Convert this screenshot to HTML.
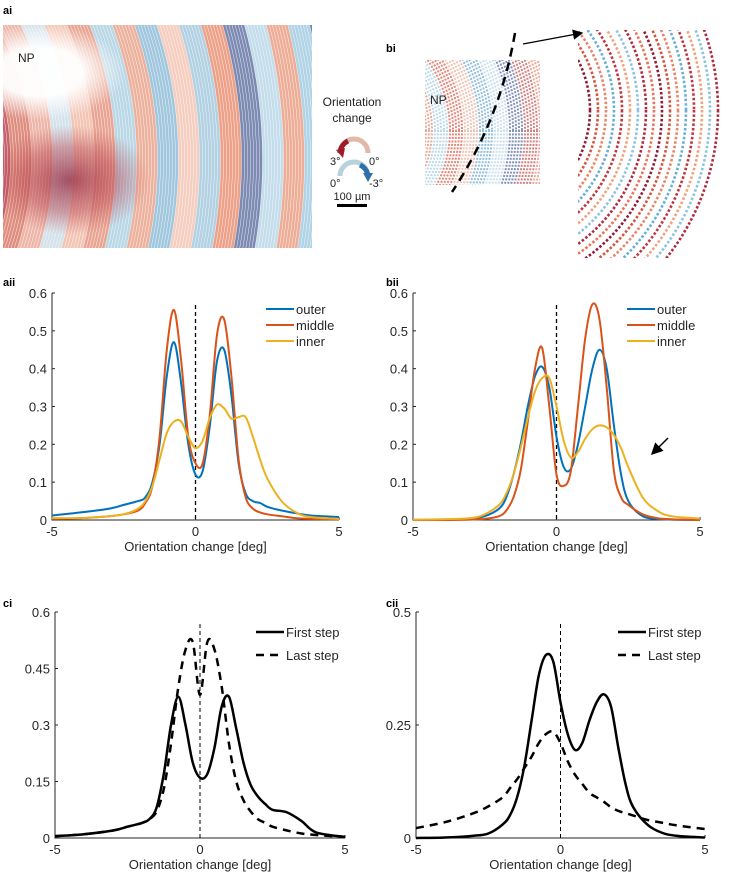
<!DOCTYPE html>
<html><head><meta charset="utf-8">
<style>
body{margin:0;background:#fff;width:729px;height:879px;overflow:hidden;font-family:"Liberation Sans",sans-serif}
svg text{font-family:"Liberation Sans",sans-serif}
</style></head>
<body>
<svg id="fig" width="729" height="879" viewBox="0 0 729 879" xmlns="http://www.w3.org/2000/svg">
<defs>
<clipPath id="clipA"><rect x="3" y="25" width="309" height="223"/></clipPath>
<clipPath id="clipB"><rect x="425" y="60" width="115" height="125"/></clipPath>
<clipPath id="clipC"><rect x="578" y="30" width="151" height="228"/></clipPath>
<radialGradient id="npWhite" cx="0.5" cy="0.5" r="0.5"><stop offset="0.5" stop-color="#fff" stop-opacity="0.95"/><stop offset="1" stop-color="#fff" stop-opacity="0"/></radialGradient>
<radialGradient id="redBlob" cx="0.5" cy="0.5" r="0.5"><stop offset="0" stop-color="#8e1f36" stop-opacity="0.75"/><stop offset="0.6" stop-color="#b7404c" stop-opacity="0.45"/><stop offset="1" stop-color="#c0504f" stop-opacity="0"/></radialGradient>
<marker id="ah" markerWidth="8" markerHeight="8" refX="7" refY="4" orient="auto"><path d="M0,0 L8,4 L0,8 z" fill="#000"/></marker>
</defs>
<g id="imgA" clip-path="url(#clipA)"></g>
<g id="imgB" clip-path="url(#clipB)"></g>
<g id="imgC" clip-path="url(#clipC)"></g>
<text x="3" y="14" font-size="11" font-weight="bold">ai</text>
<text x="18" y="62" font-size="12" fill="#222">NP</text>
<text x="386" y="52" font-size="11" font-weight="bold">bi</text>
<text x="430" y="104" font-size="12" fill="#222">NP</text>
<path d="M515,33 Q500,120 452,192" stroke="#000" stroke-width="2.5" fill="none" stroke-dasharray="9,6"/>
<line x1="523" y1="44" x2="582" y2="33" stroke="#000" stroke-width="1.3" marker-end="url(#ah)"/>
<g>
<text x="352" y="106" font-size="12" text-anchor="middle" fill="#222">Orientation</text>
<text x="352" y="122" font-size="12" text-anchor="middle" fill="#222">change</text>
<path d="M340,153 A14,14 0 0 1 368,153" stroke="#e2b8a8" stroke-width="5" fill="none"/>
<path d="M340,153 A14,14 0 0 1 348,141" stroke="#9e1b2a" stroke-width="5" fill="none"/>
<path d="M336,150 L343,158 L345,148 z" fill="#9e1b2a"/>
<path d="M340,176 A14,14 0 0 1 368,176" stroke="#b9d1dc" stroke-width="5" fill="none"/>
<path d="M360,165 A14,14 0 0 1 368,176" stroke="#2f6fa8" stroke-width="5" fill="none"/>
<path d="M363,173 L373,173 L368,182 z" fill="#2f6fa8"/>
<text x="330" y="165" font-size="11" fill="#222">3°</text>
<text x="369" y="165" font-size="11" fill="#222">0°</text>
<text x="330" y="187" font-size="11" fill="#222">0°</text>
<text x="369" y="187" font-size="11" fill="#222">-3°</text>
<text x="352" y="200" font-size="11" text-anchor="middle" fill="#222">100 µm</text>
<rect x="337" y="204" width="30" height="3" fill="#000"/>
</g>
<text x="3" y="286" font-size="11" font-weight="bold">aii</text>
<text x="386" y="286" font-size="11" font-weight="bold">bii</text>
<text x="3" y="607" font-size="11" font-weight="bold">ci</text>
<text x="386" y="607" font-size="11" font-weight="bold">cii</text>
</svg>
<script>
// ---- chart data ----
const xs = [-5,-4,-3,-2.5,-2,-1.75,-1.5,-1.25,-1,-0.75,-0.5,-0.25,0,0.25,0.5,0.75,1,1.25,1.5,1.75,2,2.25,2.5,3,3.5,4,5];
const aiiOuter  = [.012,.02,.03,.04,.05,.06,.1,.2,.38,.47,.36,.2,.12,.13,.25,.42,.45,.33,.15,.07,.05,.045,.035,.025,.018,.012,.008];
const aiiMiddle = [.003,.005,.01,.015,.025,.045,.09,.22,.45,.555,.42,.22,.15,.15,.28,.49,.53,.38,.16,.06,.03,.02,.015,.01,.005,.003,.002];
const aiiInner  = [.005,.005,.01,.015,.03,.05,.09,.16,.23,.26,.26,.22,.19,.21,.27,.305,.295,.268,.272,.272,.22,.16,.11,.05,.02,.008,.003];
const biiOuter  = [0,.001,.003,.01,.03,.06,.12,.2,.3,.38,.405,.35,.22,.14,.135,.2,.3,.4,.45,.4,.25,.12,.05,.01,.003,.001,0];
const biiMiddle = [0,0,.001,.003,.01,.025,.06,.13,.26,.4,.455,.3,.12,.09,.13,.3,.48,.57,.53,.35,.13,.06,.04,.015,.005,.002,0];
const biiInner  = [.001,.002,.005,.015,.04,.07,.12,.19,.27,.34,.375,.375,.3,.21,.165,.18,.215,.24,.25,.245,.225,.19,.14,.06,.025,.01,.004];
const ciFirst   = [.005,.01,.02,.03,.04,.05,.08,.17,.3,.375,.3,.2,.16,.17,.24,.35,.375,.29,.2,.14,.11,.09,.075,.068,.045,.015,.003];
const ciLast    = [.005,.01,.02,.03,.04,.05,.07,.13,.25,.4,.5,.52,.38,.52,.5,.4,.25,.15,.1,.07,.05,.04,.03,.02,.012,.008,.003];
const ciiFirst  = [0,.001,.005,.01,.03,.05,.09,.16,.26,.36,.405,.39,.3,.23,.195,.21,.26,.3,.318,.29,.2,.12,.07,.03,.012,.005,.001];
const ciiLast   = [.022,.035,.055,.07,.09,.11,.13,.155,.18,.21,.23,.235,.21,.17,.14,.12,.1,.09,.08,.068,.06,.055,.05,.04,.034,.028,.02];
const xTicks = [-5,0,5];
const abTicks = [0,0.1,0.2,0.3,0.4,0.5,0.6];
const ciTicks = [0,0.15,0.3,0.45,0.6];
const ciiTicks = [0,0.25,0.5];
const legendAB = ["outer","middle","inner"];
const legendC = ["First step","Last step"];

const NS="http://www.w3.org/2000/svg";
const svg=document.getElementById('fig');
function mk(tag,attrs,parent){const e=document.createElementNS(NS,tag);for(const k in attrs)e.setAttribute(k,attrs[k]);(parent||svg).appendChild(e);return e;}
function smooth(pts){let d="M"+pts[0][0].toFixed(1)+","+pts[0][1].toFixed(1);
 for(let i=0;i<pts.length-1;i++){const p0=pts[i-1]||pts[i],p1=pts[i],p2=pts[i+1],p3=pts[i+2]||p2;
  const c1=[p1[0]+(p2[0]-p0[0])/6,p1[1]+(p2[1]-p0[1])/6],c2=[p2[0]-(p3[0]-p1[0])/6,p2[1]-(p3[1]-p1[1])/6];
  d+=" C"+c1[0].toFixed(1)+","+c1[1].toFixed(1)+" "+c2[0].toFixed(1)+","+c2[1].toFixed(1)+" "+p2[0].toFixed(1)+","+p2[1].toFixed(1);}
 return d;}
function chart(cfg){
 const g=mk('g',{});
 
 
 const X=v=>cfg.x0+(v+5)/10*(cfg.x1-cfg.x0);
 const Y=v=>cfg.y0-v/cfg.ymax*(cfg.y0-cfg.y1);
 const ax=mk('path',{d:`M${cfg.x0},${cfg.y1} V${cfg.y0} H${cfg.x1}`,stroke:'#262626','stroke-width':1,fill:'none'},g);
 
 
 cfg.yt.forEach(t=>{mk('line',{x1:cfg.x0,x2:cfg.x0+3,y1:Y(t),y2:Y(t),stroke:'#262626'},g);
  const tx=mk('text',{x:cfg.x0-5,y:Y(t)+5,'font-size':13,'text-anchor':'end',fill:'#262626'},g);tx.textContent=String(t);
  
  });
 xTicks.forEach(t=>{mk('line',{x1:X(t),x2:X(t),y1:cfg.y0,y2:cfg.y0-3,stroke:'#262626'},g);
  const tx=mk('text',{x:X(t),y:cfg.y0+16,'font-size':13,'text-anchor':'middle',fill:'#262626'},g);tx.textContent=String(t);
  
  });
 const xl=mk('text',{x:(cfg.x0+cfg.x1)/2,y:cfg.y0+31,'font-size':13,'text-anchor':'middle',fill:'#262626'},g);xl.textContent="Orientation change [deg]";
 
 
 const zl=mk('line',{x1:X(0),x2:X(0),y1:cfg.y1+12,y2:cfg.y0,stroke:'#000','stroke-width':cfg.zw,'stroke-dasharray':'4,3'},g);
 
 
 cfg.series.forEach((s,i)=>{
  const p=mk('path',{d:smooth(xs.map((x,j)=>[X(x),Y(s.v[j])])),stroke:s.c,'stroke-width':s.w,fill:'none','stroke-dasharray':s.dash||'none','stroke-linejoin':'round'},g);
  
  
  const ly=cfg.y1+cfg.ly+i*cfg.lsp;
  mk('line',{x1:cfg.lx,x2:cfg.lx+cfg.lw,y1:ly,y2:ly,stroke:s.c,'stroke-width':s.w,'stroke-dasharray':s.dash||'none'},g);
  const lt=mk('text',{x:cfg.lx+cfg.lw+2,y:ly+5,'font-size':13,fill:'#262626'},g);lt.textContent=s.label;
  
  
 });
}
const B='#0072bd',R='#d95319',Yc='#edb120';
chart({name:'chart-aii',x0:52,x1:339,y0:520,y1:293,ymax:0.6,yt:abTicks,zw:1.3,lx:266,lw:28,ly:16,lsp:16,
 series:[{v:aiiOuter,c:B,w:2,label:legendAB[0]},{v:aiiMiddle,c:R,w:2,label:legendAB[1]},{v:aiiInner,c:Yc,w:2,label:legendAB[2]}]});
chart({name:'chart-bii',x0:413,x1:700,y0:520,y1:293,ymax:0.6,yt:abTicks,zw:1.3,lx:627,lw:28,ly:16,lsp:16,
 series:[{v:biiOuter,c:B,w:2,label:legendAB[0]},{v:biiMiddle,c:R,w:2,label:legendAB[1]},{v:biiInner,c:Yc,w:2,label:legendAB[2]}]});
chart({name:'chart-ci',x0:55,x1:345,y0:838,y1:612,ymax:0.6,yt:ciTicks,zw:1,lx:256,lw:28,ly:20,lsp:23,
 series:[{v:ciFirst,c:'#000',w:2.5,label:legendC[0]},{v:ciLast,c:'#000',w:2.5,dash:'8,6',label:legendC[1]}]});
chart({name:'chart-cii',x0:416,x1:705,y0:838,y1:612,ymax:0.5,yt:ciiTicks,zw:1,lx:618,lw:28,ly:20,lsp:23,
 series:[{v:ciiFirst,c:'#000',w:2.5,label:legendC[0]},{v:ciiLast,c:'#000',w:2.5,dash:'8,6',label:legendC[1]}]});
const ar=mk('line',{x1:668,y1:438,x2:652,y2:454,stroke:'#000','stroke-width':1.5,'marker-end':'url(#ah)'});



// ---- decorative fibre images ----
const bandCols=['#a3243a','#b83a48','#d6705f','#e8a493','#c9dbe6','#f0b7a2','#e38f78','#a9cde0','#e99f85','#8ab9d6','#f2c2b0','#9fc6dc','#e98a6c','#5c6ea0','#b5d5e6','#e8987c','#9cc8df','#4a6a9e','#a7d0e6'];
const gA=document.getElementById('imgA');
for(let r=120,i=0;r<560;r+=3,i++){
 const c=bandCols[Math.floor(i/7)%bandCols.length];
 mk('circle',{cx:-250,cy:160,r:r+100,fill:'none',stroke:c,'stroke-width':2.6,opacity:0.8},gA);
}
mk('ellipse',{cx:70,cy:180,rx:80,ry:55,fill:'url(#redBlob)'},gA);
mk('ellipse',{cx:40,cy:72,rx:85,ry:48,fill:'url(#npWhite)'},gA);
const gB=document.getElementById('imgB');
const bCols=['#5a6fa3','#c65a5a','#e48d77','#a6cce0','#d9604f','#eab09e','#6fa8d2','#b8d7e8'];
for(let r=60,i=0;r<260;r+=3,i++){
 const c=bCols[Math.floor(i/5)%bCols.length];
 mk('circle',{cx:330,cy:130,r:r,fill:'none',stroke:c,'stroke-width':2,opacity:0.75,'stroke-dasharray':'2,1.5'},gB);
}
const gC=document.getElementById('imgC');
const cCols=['#8e1c35','#d2553f','#e8866a','#6aaed6','#c2343d','#f0a27f','#8ec3e0','#b02a3e','#e9745a'];
for(let r=110,i=0;r<240;r+=8,i++){
 const c=cCols[i%cCols.length];
 mk('circle',{cx:480,cy:110,r:r,fill:'none',stroke:c,'stroke-width':2.6,'stroke-dasharray':'2.5,2'},gC);
}
</script>
</body></html>
